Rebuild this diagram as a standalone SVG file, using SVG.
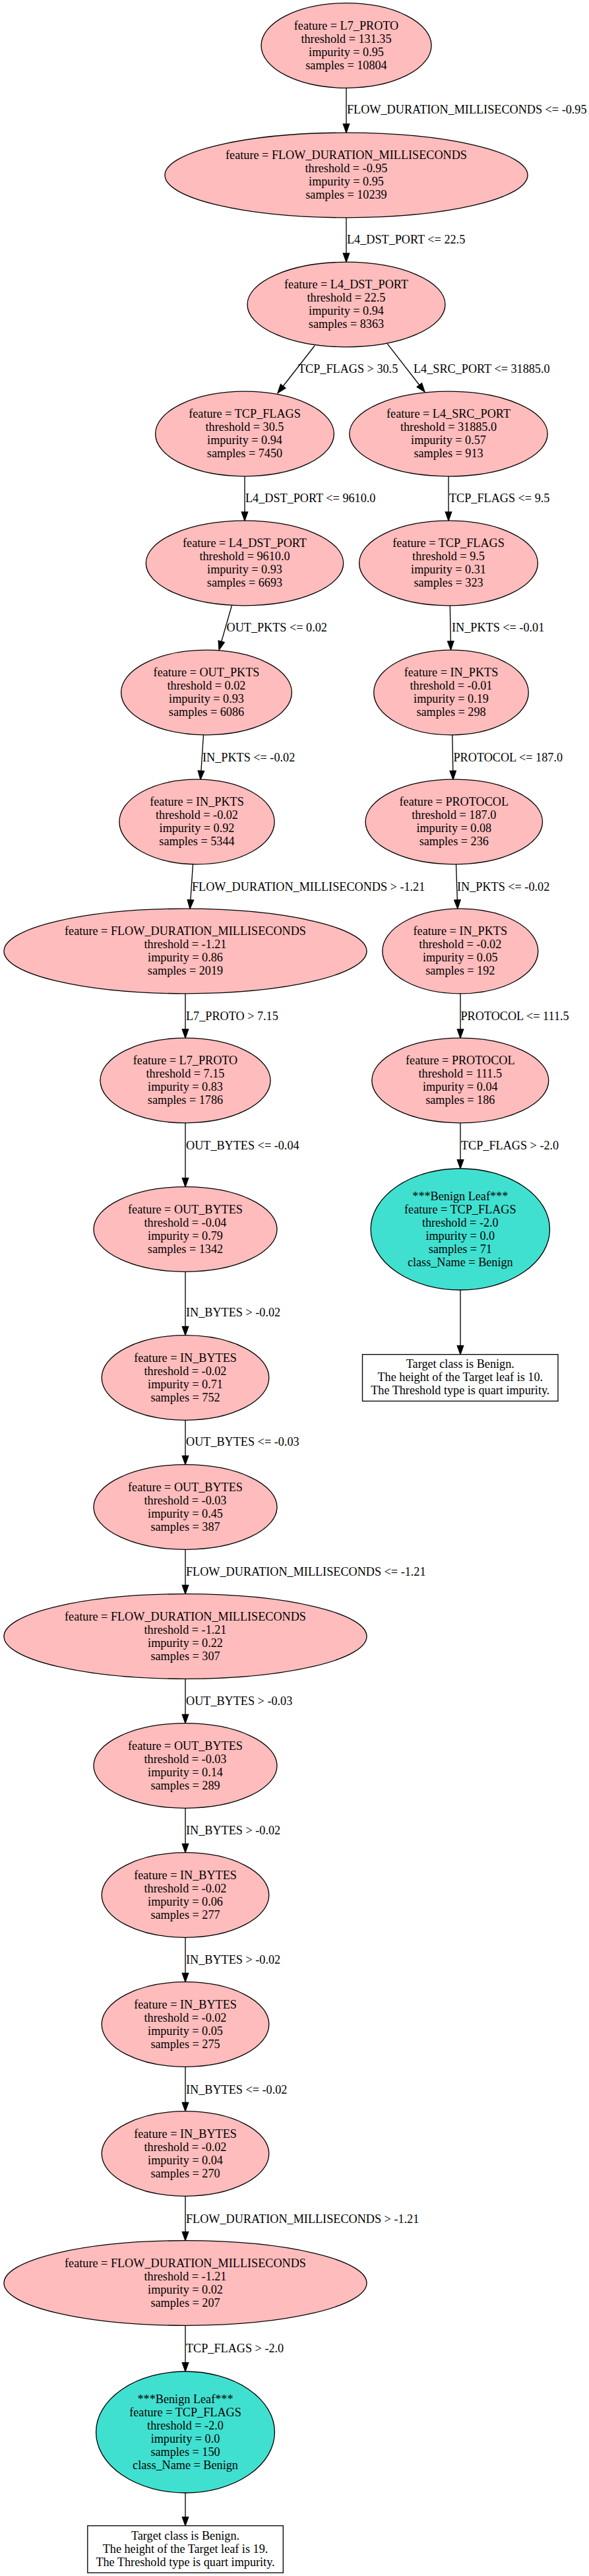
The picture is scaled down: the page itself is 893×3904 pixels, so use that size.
<svg xmlns="http://www.w3.org/2000/svg" width="893" height="3904" viewBox="0 0 893 3904">
<style>
text{font-family:"Liberation Serif","Times New Roman",serif;font-size:18.2px;fill:#000}
.node text{text-anchor:middle}
.node ellipse{fill:#ffbcbc;stroke:#000;stroke-width:1.33}
.node.leaf ellipse{fill:#40e0d0}
.node rect{fill:#fff;stroke:#000;stroke-width:1.33}
#edges line{stroke:#000;stroke-width:1.33;fill:none;marker-end:url(#ah)}
#edges text{text-anchor:start}
</style>
<defs>
<marker id="ah" markerUnits="userSpaceOnUse" viewBox="-1 -1 15.3 11.4" refX="0" refY="4.7" markerWidth="15.3" markerHeight="11.4" orient="auto">
<path d="M0,0 L13.3,4.7 L0,9.4 Z" fill="#000" stroke="#000" stroke-width="1.33"/>
</marker>
</defs>
<rect width="893" height="3904" fill="#fff"/>

<g id="edges">
<line x1="525" y1="133.3" x2="525" y2="187.9"/><text x="526" y="172">FLOW_DURATION_MILLISECONDS &lt;= -0.95</text>
<line x1="525" y1="329.8" x2="525" y2="383.9"/><text x="526" y="368.7">L4_DST_PORT &lt;= 22.5</text>
<line x1="477" y1="524" x2="429.19" y2="585.22"/><text x="452" y="565">TCP_FLAGS &gt; 30.5</text>
<line x1="587" y1="520.7" x2="635.84" y2="583.5"/><text x="627" y="565">L4_SRC_PORT &lt;= 31885.0</text>
<line x1="371" y1="721.8" x2="371" y2="775.9"/><text x="372" y="761">L4_DST_PORT &lt;= 9610.0</text>
<line x1="680" y1="721.8" x2="680" y2="775.9"/><text x="681" y="761">TCP_FLAGS &lt;= 9.5</text>
<line x1="351.5" y1="917.5" x2="335.72" y2="972.23"/><text x="343.5" y="957">OUT_PKTS &lt;= 0.02</text>
<line x1="682.3" y1="917.5" x2="683.26" y2="971.7"/><text x="685" y="957">IN_PKTS &lt;= -0.01</text>
<line x1="308.5" y1="1113.7" x2="304.89" y2="1168.2"/><text x="307" y="1154">IN_PKTS &lt;= -0.02</text>
<line x1="685.8" y1="1113.7" x2="686.76" y2="1168.2"/><text x="687.5" y="1154">PROTOCOL &lt;= 187.0</text>
<line x1="292.5" y1="1309.7" x2="288.89" y2="1363.9"/><text x="291" y="1350">FLOW_DURATION_MILLISECONDS &gt; -1.21</text>
<line x1="691.5" y1="1309.7" x2="693.35" y2="1363.9"/><text x="693" y="1350">IN_PKTS &lt;= -0.02</text>
<line x1="281" y1="1505.8" x2="281" y2="1559.9"/><text x="282" y="1546">L7_PROTO &gt; 7.15</text>
<line x1="698" y1="1505.8" x2="698" y2="1559.9"/><text x="698.5" y="1546">PROTOCOL &lt;= 111.5</text>
<line x1="281" y1="1701.8" x2="281" y2="1785.4"/><text x="282" y="1742">OUT_BYTES &lt;= -0.04</text>
<line x1="698" y1="1701.8" x2="698" y2="1757.7"/><text x="699" y="1742">TCP_FLAGS &gt; -2.0</text>
<line x1="281" y1="1927.3" x2="281" y2="2010.4"/><text x="282" y="1994.6">IN_BYTES &gt; -0.02</text>
<line x1="698" y1="1955" x2="698" y2="2039.3"/>
<line x1="281" y1="2152.3" x2="281" y2="2206.4"/><text x="282" y="2191.4">OUT_BYTES &lt;= -0.03</text>
<line x1="281" y1="2348.3" x2="281" y2="2402.4"/><text x="282" y="2387.8">FLOW_DURATION_MILLISECONDS &lt;= -1.21</text>
<line x1="281" y1="2544.3" x2="281" y2="2598.4"/><text x="282" y="2584">OUT_BYTES &gt; -0.03</text>
<line x1="281" y1="2740.3" x2="281" y2="2794.4"/><text x="282" y="2780">IN_BYTES &gt; -0.02</text>
<line x1="281" y1="2936.3" x2="281" y2="2990.4"/><text x="282" y="2976">IN_BYTES &gt; -0.02</text>
<line x1="281" y1="3132.3" x2="281" y2="3186.4"/><text x="282" y="3172.7">IN_BYTES &lt;= -0.02</text>
<line x1="281" y1="3328.3" x2="281" y2="3382.4"/><text x="282" y="3369.3">FLOW_DURATION_MILLISECONDS &gt; -1.21</text>
<line x1="281" y1="3524.3" x2="281" y2="3580.7"/><text x="282" y="3565">TCP_FLAGS &gt; -2.0</text>
<line x1="281" y1="3778" x2="281" y2="3814.5"/>
</g>

<g id="n0" class="node"><ellipse cx="525" cy="69" rx="129" ry="64.3"/><text x="525" y="44.5">feature = L7_PROTO</text><text x="525" y="64.5">threshold = 131.35</text><text x="525" y="84.5">impurity = 0.95</text><text x="525" y="104.5">samples = 10804</text></g>
<g id="n1" class="node"><ellipse cx="525" cy="265.5" rx="275" ry="64.3"/><text x="525" y="241">feature = FLOW_DURATION_MILLISECONDS</text><text x="525" y="261">threshold = -0.95</text><text x="525" y="281">impurity = 0.95</text><text x="525" y="301">samples = 10239</text></g>
<g id="n2" class="node"><ellipse cx="525" cy="461.5" rx="150" ry="64.3"/><text x="525" y="437">feature = L4_DST_PORT</text><text x="525" y="457">threshold = 22.5</text><text x="525" y="477">impurity = 0.94</text><text x="525" y="497">samples = 8363</text></g>
<g id="n3" class="node"><ellipse cx="371" cy="657.5" rx="135.4" ry="64.3"/><text x="371" y="633">feature = TCP_FLAGS</text><text x="371" y="653">threshold = 30.5</text><text x="371" y="673">impurity = 0.94</text><text x="371" y="693">samples = 7450</text></g>
<g id="n4" class="node"><ellipse cx="680" cy="657.5" rx="150.2" ry="64.3"/><text x="680" y="633">feature = L4_SRC_PORT</text><text x="680" y="653">threshold = 31885.0</text><text x="680" y="673">impurity = 0.57</text><text x="680" y="693">samples = 913</text></g>
<g id="n5" class="node"><ellipse cx="371" cy="853.5" rx="149.7" ry="64.3"/><text x="371" y="829">feature = L4_DST_PORT</text><text x="371" y="849">threshold = 9610.0</text><text x="371" y="869">impurity = 0.93</text><text x="371" y="889">samples = 6693</text></g>
<g id="n6" class="node"><ellipse cx="680" cy="853.5" rx="135.4" ry="64.3"/><text x="680" y="829">feature = TCP_FLAGS</text><text x="680" y="849">threshold = 9.5</text><text x="680" y="869">impurity = 0.31</text><text x="680" y="889">samples = 323</text></g>
<g id="n7" class="node"><ellipse cx="313" cy="1049.5" rx="129.4" ry="64.3"/><text x="313" y="1025">feature = OUT_PKTS</text><text x="313" y="1045">threshold = 0.02</text><text x="313" y="1065">impurity = 0.93</text><text x="313" y="1085">samples = 6086</text></g>
<g id="n8" class="node"><ellipse cx="684" cy="1049.5" rx="117.3" ry="64.3"/><text x="684" y="1025">feature = IN_PKTS</text><text x="684" y="1045">threshold = -0.01</text><text x="684" y="1065">impurity = 0.19</text><text x="684" y="1085">samples = 298</text></g>
<g id="n9" class="node"><ellipse cx="298.5" cy="1245.5" rx="117.6" ry="64.3"/><text x="298.5" y="1221">feature = IN_PKTS</text><text x="298.5" y="1241">threshold = -0.02</text><text x="298.5" y="1261">impurity = 0.92</text><text x="298.5" y="1281">samples = 5344</text></g>
<g id="n10" class="node"><ellipse cx="688.3" cy="1245.5" rx="134.2" ry="64.3"/><text x="688.3" y="1221">feature = PROTOCOL</text><text x="688.3" y="1241">threshold = 187.0</text><text x="688.3" y="1261">impurity = 0.08</text><text x="688.3" y="1281">samples = 236</text></g>
<g id="n11" class="node"><ellipse cx="281" cy="1441.5" rx="275" ry="64.3"/><text x="281" y="1417">feature = FLOW_DURATION_MILLISECONDS</text><text x="281" y="1437">threshold = -1.21</text><text x="281" y="1457">impurity = 0.86</text><text x="281" y="1477">samples = 2019</text></g>
<g id="n12" class="node"><ellipse cx="697.8" cy="1441.5" rx="118" ry="64.3"/><text x="697.8" y="1417">feature = IN_PKTS</text><text x="697.8" y="1437">threshold = -0.02</text><text x="697.8" y="1457">impurity = 0.05</text><text x="697.8" y="1477">samples = 192</text></g>
<g id="n13" class="node"><ellipse cx="281" cy="1637.5" rx="129" ry="64.3"/><text x="281" y="1613">feature = L7_PROTO</text><text x="281" y="1633">threshold = 7.15</text><text x="281" y="1653">impurity = 0.83</text><text x="281" y="1673">samples = 1786</text></g>
<g id="n14" class="node"><ellipse cx="697.8" cy="1637.5" rx="134" ry="64.3"/><text x="697.8" y="1613">feature = PROTOCOL</text><text x="697.8" y="1633">threshold = 111.5</text><text x="697.8" y="1653">impurity = 0.04</text><text x="697.8" y="1673">samples = 186</text></g>
<g id="n15" class="node"><ellipse cx="281" cy="1863" rx="139" ry="64.3"/><text x="281" y="1838.5">feature = OUT_BYTES</text><text x="281" y="1858.5">threshold = -0.04</text><text x="281" y="1878.5">impurity = 0.79</text><text x="281" y="1898.5">samples = 1342</text></g>
<g id="n16" class="node leaf"><ellipse cx="697.8" cy="1863" rx="135.7" ry="92"/><text x="697.8" y="1819">***Benign Leaf***</text><text x="697.8" y="1839">feature = TCP_FLAGS</text><text x="697.8" y="1859">threshold = -2.0</text><text x="697.8" y="1879">impurity = 0.0</text><text x="697.8" y="1899">samples = 71</text><text x="697.8" y="1919">class_Name = Benign</text></g>
<g id="n17" class="node"><ellipse cx="281" cy="2088" rx="126.8" ry="64.3"/><text x="281" y="2063.5">feature = IN_BYTES</text><text x="281" y="2083.5">threshold = -0.02</text><text x="281" y="2103.5">impurity = 0.71</text><text x="281" y="2123.5">samples = 752</text></g>
<g id="n18" class="node"><rect x="549.5" y="2052.7" width="296.5" height="70.7"/><text x="697.8" y="2073">Target class is Benign.</text><text x="697.8" y="2093">The height of the Target leaf is 10.</text><text x="697.8" y="2113">The Threshold type is quart impurity.</text></g>
<g id="n19" class="node"><ellipse cx="281" cy="2284" rx="139" ry="64.3"/><text x="281" y="2259.5">feature = OUT_BYTES</text><text x="281" y="2279.5">threshold = -0.03</text><text x="281" y="2299.5">impurity = 0.45</text><text x="281" y="2319.5">samples = 387</text></g>
<g id="n20" class="node"><ellipse cx="281" cy="2480" rx="275" ry="64.3"/><text x="281" y="2455.5">feature = FLOW_DURATION_MILLISECONDS</text><text x="281" y="2475.5">threshold = -1.21</text><text x="281" y="2495.5">impurity = 0.22</text><text x="281" y="2515.5">samples = 307</text></g>
<g id="n21" class="node"><ellipse cx="281" cy="2676" rx="139" ry="64.3"/><text x="281" y="2651.5">feature = OUT_BYTES</text><text x="281" y="2671.5">threshold = -0.03</text><text x="281" y="2691.5">impurity = 0.14</text><text x="281" y="2711.5">samples = 289</text></g>
<g id="n22" class="node"><ellipse cx="281" cy="2872" rx="126.8" ry="64.3"/><text x="281" y="2847.5">feature = IN_BYTES</text><text x="281" y="2867.5">threshold = -0.02</text><text x="281" y="2887.5">impurity = 0.06</text><text x="281" y="2907.5">samples = 277</text></g>
<g id="n23" class="node"><ellipse cx="281" cy="3068" rx="126.8" ry="64.3"/><text x="281" y="3043.5">feature = IN_BYTES</text><text x="281" y="3063.5">threshold = -0.02</text><text x="281" y="3083.5">impurity = 0.05</text><text x="281" y="3103.5">samples = 275</text></g>
<g id="n24" class="node"><ellipse cx="281" cy="3264" rx="126.8" ry="64.3"/><text x="281" y="3239.5">feature = IN_BYTES</text><text x="281" y="3259.5">threshold = -0.02</text><text x="281" y="3279.5">impurity = 0.04</text><text x="281" y="3299.5">samples = 270</text></g>
<g id="n25" class="node"><ellipse cx="281" cy="3460" rx="275" ry="64.3"/><text x="281" y="3435.5">feature = FLOW_DURATION_MILLISECONDS</text><text x="281" y="3455.5">threshold = -1.21</text><text x="281" y="3475.5">impurity = 0.02</text><text x="281" y="3495.5">samples = 207</text></g>
<g id="n26" class="node leaf"><ellipse cx="281" cy="3686" rx="135.4" ry="92"/><text x="281" y="3642">***Benign Leaf***</text><text x="281" y="3662">feature = TCP_FLAGS</text><text x="281" y="3682">threshold = -2.0</text><text x="281" y="3702">impurity = 0.0</text><text x="281" y="3722">samples = 150</text><text x="281" y="3742">class_Name = Benign</text></g>
<g id="n27" class="node"><rect x="132.8" y="3827.8" width="296.5" height="71.3"/><text x="281" y="3848.5">Target class is Benign.</text><text x="281" y="3868.5">The height of the Target leaf is 19.</text><text x="281" y="3888.5">The Threshold type is quart impurity.</text></g>
</svg>
